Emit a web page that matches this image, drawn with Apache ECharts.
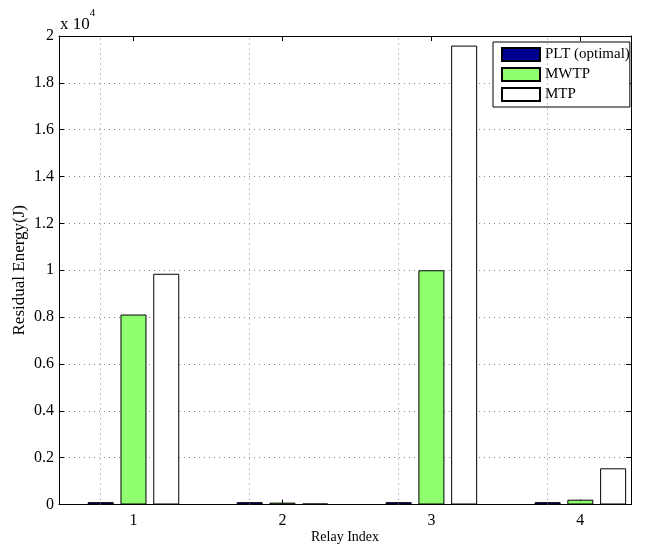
<!DOCTYPE html>
<html>
<head>
<meta charset="utf-8">
<script src="https://cdn.jsdelivr.net/npm/echarts@6/dist/echarts.min.js"></script>
<style>html,body{margin:0;padding:0;background:#fff;}#c{width:648px;height:546px;}</style>
</head>
<body>
<div id="c"></div>
<script>
var categories = [1, 2, 3, 4];
var seriesNames = ['PLT (optimal)', 'MWTP', 'MTP'];
var pltValues = [100, 100, 100, 100];
var mwtpValues = [8110, 80, 10000, 205];
var mtpValues = [9850, 40, 19590, 1545];
var yTicks = [0, 2000, 4000, 6000, 8000, 10000, 12000, 14000, 16000, 18000, 20000];

var FONT = 'Liberation Serif';
function pairs(vals) { return categories.map(function (c, i) { return [c, vals[i]]; }); }

var chart = echarts.init(document.getElementById('c'));
var xCommon = {
  type: 'value', min: 0.5, max: 4.34,
  axisLine: { show: true, onZero: false, lineStyle: { color: '#000', width: 1 } },
  axisTick: { show: true, inside: true, length: 5, customValues: categories, lineStyle: { color: '#000' } },
  splitLine: { show: false }
};
var yCommon = {
  type: 'value', min: 0, max: 20000, interval: 2000,
  axisLine: { show: true, lineStyle: { color: '#000', width: 1 } },
  axisTick: { show: true, inside: true, length: 5, lineStyle: { color: '#000' } }
};
chart.setOption({
  animation: false,
  backgroundColor: '#fff',
  grid: { left: 59, right: 17, top: 36, bottom: 41.5, containLabel: false, outerBoundsMode: 'none' },
  legend: {
    orient: 'vertical', left: 493, top: 42,
    data: seriesNames,
    itemWidth: 38, itemHeight: 13, itemGap: 5,
    padding: [5, 0, 5, 8],
    borderColor: '#000', borderWidth: 1, backgroundColor: '#fff',
    textStyle: { fontFamily: FONT, fontSize: 15, color: '#000' },
    icon: 'rect'
  },
  graphic: [{
    type: 'text', left: 60, top: 8,
    style: {
      text: '{a|x 10}{b|4}',
      rich: {
        a: { fontFamily: FONT, fontSize: 17, fill: '#000', verticalAlign: 'bottom', padding: [8, 0, 0, 0] },
        b: { fontFamily: FONT, fontSize: 11, fill: '#000', verticalAlign: 'top' }
      }
    }
  }],
  xAxis: [
    Object.assign({}, xCommon, {
      position: 'bottom', name: 'Relay Index', nameLocation: 'middle', nameGap: 26, nameMoveOverlap: false,
      nameTextStyle: { fontFamily: FONT, fontSize: 14, color: '#000' },
      axisLabel: { show: true, customValues: categories, margin: 8, fontFamily: FONT, fontSize: 16, color: '#000' },
      splitLine: { show: false }
    }),
    Object.assign({}, xCommon, { position: 'top', axisLabel: { show: false } })
  ],
  yAxis: [
    Object.assign({}, yCommon, {
      position: 'left', name: 'Residual Energy(J)', nameLocation: 'middle', nameGap: 31, nameMoveOverlap: false,
      nameTextStyle: { fontFamily: FONT, fontSize: 17, color: '#000' },
      axisLabel: { margin: 5, fontFamily: FONT, fontSize: 16, color: '#000',
        formatter: function (v) { return String(Math.round(v / 1000) / 10); } },
      splitLine: { show: true, lineStyle: { color: '#888', type: [1, 4], width: 1 } }
    }),
    Object.assign({}, yCommon, { position: 'right', axisLabel: { show: false }, splitLine: { show: false } })
  ],
  series: [
    {
      name: seriesNames[0], type: 'bar', data: pairs(pltValues), barWidth: 26, barGap: '26%',
      itemStyle: { color: '#00008F', borderColor: '#000', borderWidth: 1 },
      markLine: {
        silent: true, symbol: 'none', label: { show: false },
        lineStyle: { color: '#888', type: [1, 4], width: 1 },
        data: categories.map(function (c) { return { xAxis: c }; })
      }
    },
    {
      name: seriesNames[1], type: 'bar', data: pairs(mwtpValues), barWidth: 26, barGap: '26%',
      itemStyle: { color: '#8FFF70', borderColor: '#000', borderWidth: 1 }
    },
    {
      name: seriesNames[2], type: 'bar', data: pairs(mtpValues), barWidth: 26, barGap: '26%',
      itemStyle: { color: '#FFFFFF', borderColor: '#000', borderWidth: 1 }
    }
  ]
});
</script>
</body>
</html>
